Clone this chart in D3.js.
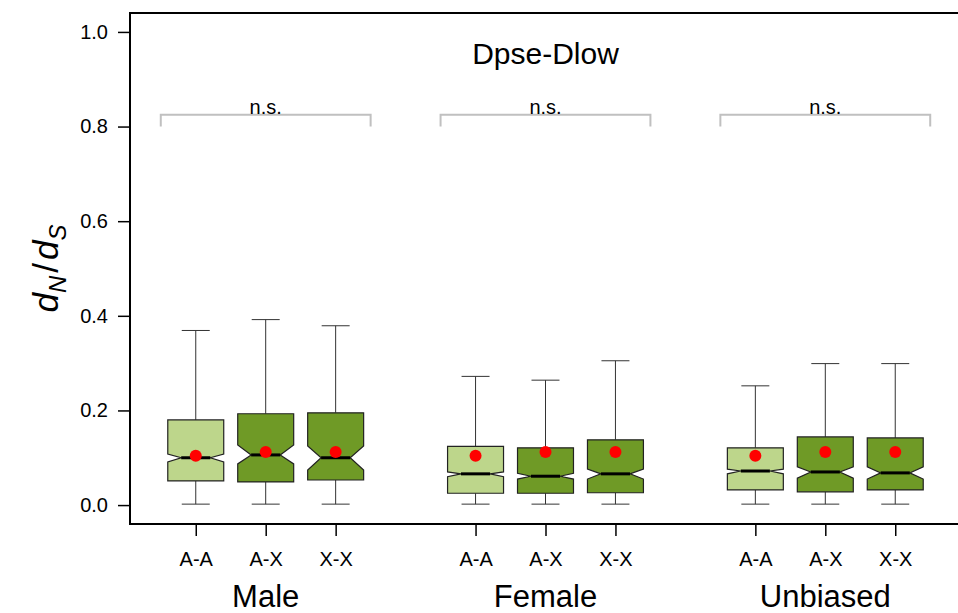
<!DOCTYPE html>
<html>
<head>
<meta charset="utf-8">
<script src="https://cdn.jsdelivr.net/npm/d3@7"></script>
<style>
  body { margin: 0; background: #fff; }
  svg text { font-family: "Liberation Sans", Arial, sans-serif; }
</style>
</head>
<body>
<svg id="chart" width="958" height="613"></svg>
<script>
// groups and genotype classes
const groups = ['Male', 'Female', 'Unbiased'];
const classes = ['A-A', 'A-X', 'X-X'];
// boxplot positions (R style, gap of one slot between groups)
const positions = [1, 2, 3, 5, 6, 7, 9, 10, 11];

// five-number summaries, one per box
const whiskLo = [0.002, 0.002, 0.002, 0.002, 0.002, 0.002, 0.002, 0.002, 0.002];
const q1 = [0.051, 0.049, 0.053, 0.025, 0.025, 0.026, 0.032, 0.028, 0.032];
const median = [0.100, 0.106, 0.100, 0.066, 0.061, 0.066, 0.072, 0.070, 0.068];
const q3 = [0.180, 0.193, 0.195, 0.124, 0.121, 0.138, 0.121, 0.144, 0.142];
const whiskHi = [0.369, 0.392, 0.379, 0.272, 0.264, 0.305, 0.252, 0.299, 0.299];
const notchLo = [0.091, 0.087, 0.074, 0.060, 0.055, 0.055, 0.066, 0.057, 0.055];
const notchHi = [0.108, 0.127, 0.125, 0.070, 0.067, 0.076, 0.076, 0.081, 0.081];
const means = [0.104, 0.112, 0.112, 0.104, 0.112, 0.112, 0.104, 0.112, 0.112];

const yTicks = [0, 0.2, 0.4, 0.6, 0.8, 1.0];
const sigLabels = ['n.s.', 'n.s.', 'n.s.'];
const title = 'Dpse-Dlow';

const colors = {
  light: '#bdd68b',
  dark: '#6f9a26',
  mean: '#ff0000',
  bracket: '#c0c0c0'
};

const svg = d3.select('#chart');

const x = d3.scaleLinear().domain([0.06, 11.94]).range([130, 961]);
const y = d3.scaleLinear().domain([-0.04, 1.04]).range([524, 13]);

const unit = x(1) - x(0);
const boxHalf = unit * 0.4;
const notchHalf = boxHalf * 0.52;
const capHalf = boxHalf * 0.5;

// boxes
const boxes = positions.map((p, i) => ({
  pos: p,
  cls: classes[i % 3],
  lo: whiskLo[i], q1: q1[i], med: median[i], q3: q3[i], hi: whiskHi[i],
  nLo: notchLo[i], nHi: notchHi[i], mean: means[i]
}));

const g = svg.append('g');

boxes.forEach(d => {
  const cx = x(d.pos);
  const bg = g.append('g');
  // whiskers
  bg.append('line')
    .attr('x1', cx).attr('x2', cx)
    .attr('y1', y(d.hi)).attr('y2', y(d.q3))
    .attr('stroke', '#333').attr('stroke-width', 1);
  bg.append('line')
    .attr('x1', cx).attr('x2', cx)
    .attr('y1', y(d.q1)).attr('y2', y(d.lo))
    .attr('stroke', '#333').attr('stroke-width', 1);
  [d.hi, d.lo].forEach(v => {
    bg.append('line')
      .attr('x1', cx - capHalf).attr('x2', cx + capHalf)
      .attr('y1', y(v)).attr('y2', y(v))
      .attr('stroke', '#333').attr('stroke-width', 1);
  });
  // notched box
  const pts = [
    [cx - boxHalf, y(d.q3)],
    [cx + boxHalf, y(d.q3)],
    [cx + boxHalf, y(d.nHi)],
    [cx + notchHalf, y(d.med)],
    [cx + boxHalf, y(d.nLo)],
    [cx + boxHalf, y(d.q1)],
    [cx - boxHalf, y(d.q1)],
    [cx - boxHalf, y(d.nLo)],
    [cx - notchHalf, y(d.med)],
    [cx - boxHalf, y(d.nHi)]
  ];
  bg.append('polygon')
    .attr('points', pts.map(p => p.join(',')).join(' '))
    .attr('fill', d.cls === 'A-A' ? colors.light : colors.dark)
    .attr('stroke', '#222').attr('stroke-width', 1.2);
  // median
  bg.append('line')
    .attr('x1', cx - notchHalf).attr('x2', cx + notchHalf)
    .attr('y1', y(d.med)).attr('y2', y(d.med))
    .attr('stroke', '#000').attr('stroke-width', 3);
  // mean
  bg.append('circle')
    .attr('cx', cx).attr('cy', y(d.mean))
    .attr('r', 6)
    .attr('fill', colors.mean);
});

// frame (left, top, bottom)
svg.append('path')
  .attr('d', `M${x(11.94) + 5},${y(1.04)} H${x(0.06)} V${y(-0.04)} H${x(11.94) + 5}`)
  .attr('fill', 'none').attr('stroke', '#000').attr('stroke-width', 2);

// y axis
const yAxis = svg.append('g')
  .attr('transform', `translate(${x(0.06)},0)`)
  .call(d3.axisLeft(y).tickValues(yTicks).tickFormat(d3.format('.1f')).tickSize(12).tickPadding(10));
yAxis.select('.domain').remove();
yAxis.selectAll('.tick line').attr('stroke', '#000').attr('stroke-width', 1.5);
yAxis.selectAll('.tick text').attr('font-size', 20).attr('fill', '#000')
  .style('font-family', '"Liberation Sans", Arial, sans-serif');

// x axis ticks
const xAxis = svg.append('g')
  .attr('transform', `translate(0,${y(-0.04)})`)
  .call(d3.axisBottom(x).tickValues(positions)
    .tickFormat((d, i) => classes[i % 3]).tickSize(12).tickPadding(16));
xAxis.select('.domain').remove();
xAxis.selectAll('.tick line').attr('stroke', '#000').attr('stroke-width', 1.5);
xAxis.selectAll('.tick text').attr('font-size', 20).attr('fill', '#000')
  .style('font-family', '"Liberation Sans", Arial, sans-serif');

// group labels
groups.forEach((grp, i) => {
  svg.append('text')
    .attr('x', x(positions[i * 3 + 1]))
    .attr('y', 607)
    .attr('text-anchor', 'middle')
    .attr('font-size', 31)
    .text(grp);
});

// significance brackets
groups.forEach((grp, i) => {
  const x0 = x(positions[i * 3] - 0.5);
  const x1 = x(positions[i * 3 + 2] + 0.5);
  svg.append('path')
    .attr('d', `M${x0},${y(0.80)} V${y(0.825)} H${x1} V${y(0.80)}`)
    .attr('fill', 'none').attr('stroke', colors.bracket).attr('stroke-width', 2);
  svg.append('text')
    .attr('x', (x0 + x1) / 2)
    .attr('y', y(0.825) - 1)
    .attr('text-anchor', 'middle')
    .attr('font-size', 20)
    .text(sigLabels[i]);
});

// title
svg.append('text')
  .attr('x', x(6))
  .attr('y', 64)
  .attr('text-anchor', 'middle')
  .attr('font-size', 30)
  .text(title);

// y label d_N / d_S
const yl = svg.append('text')
  .attr('transform', `translate(58,${y(0.5)}) rotate(-90)`)
  .attr('text-anchor', 'middle')
  .attr('font-size', 35)
  .attr('font-style', 'italic');
yl.append('tspan').text('d');
yl.append('tspan').attr('font-size', 24).attr('dy', 8).text('N');
yl.append('tspan').attr('dy', -8).attr('dx', 3).attr('font-style', 'normal').text('/');
yl.append('tspan').attr('dx', 3).text('d');
yl.append('tspan').attr('font-size', 24).attr('dy', 8).text('S');
</script>
</body>
</html>
